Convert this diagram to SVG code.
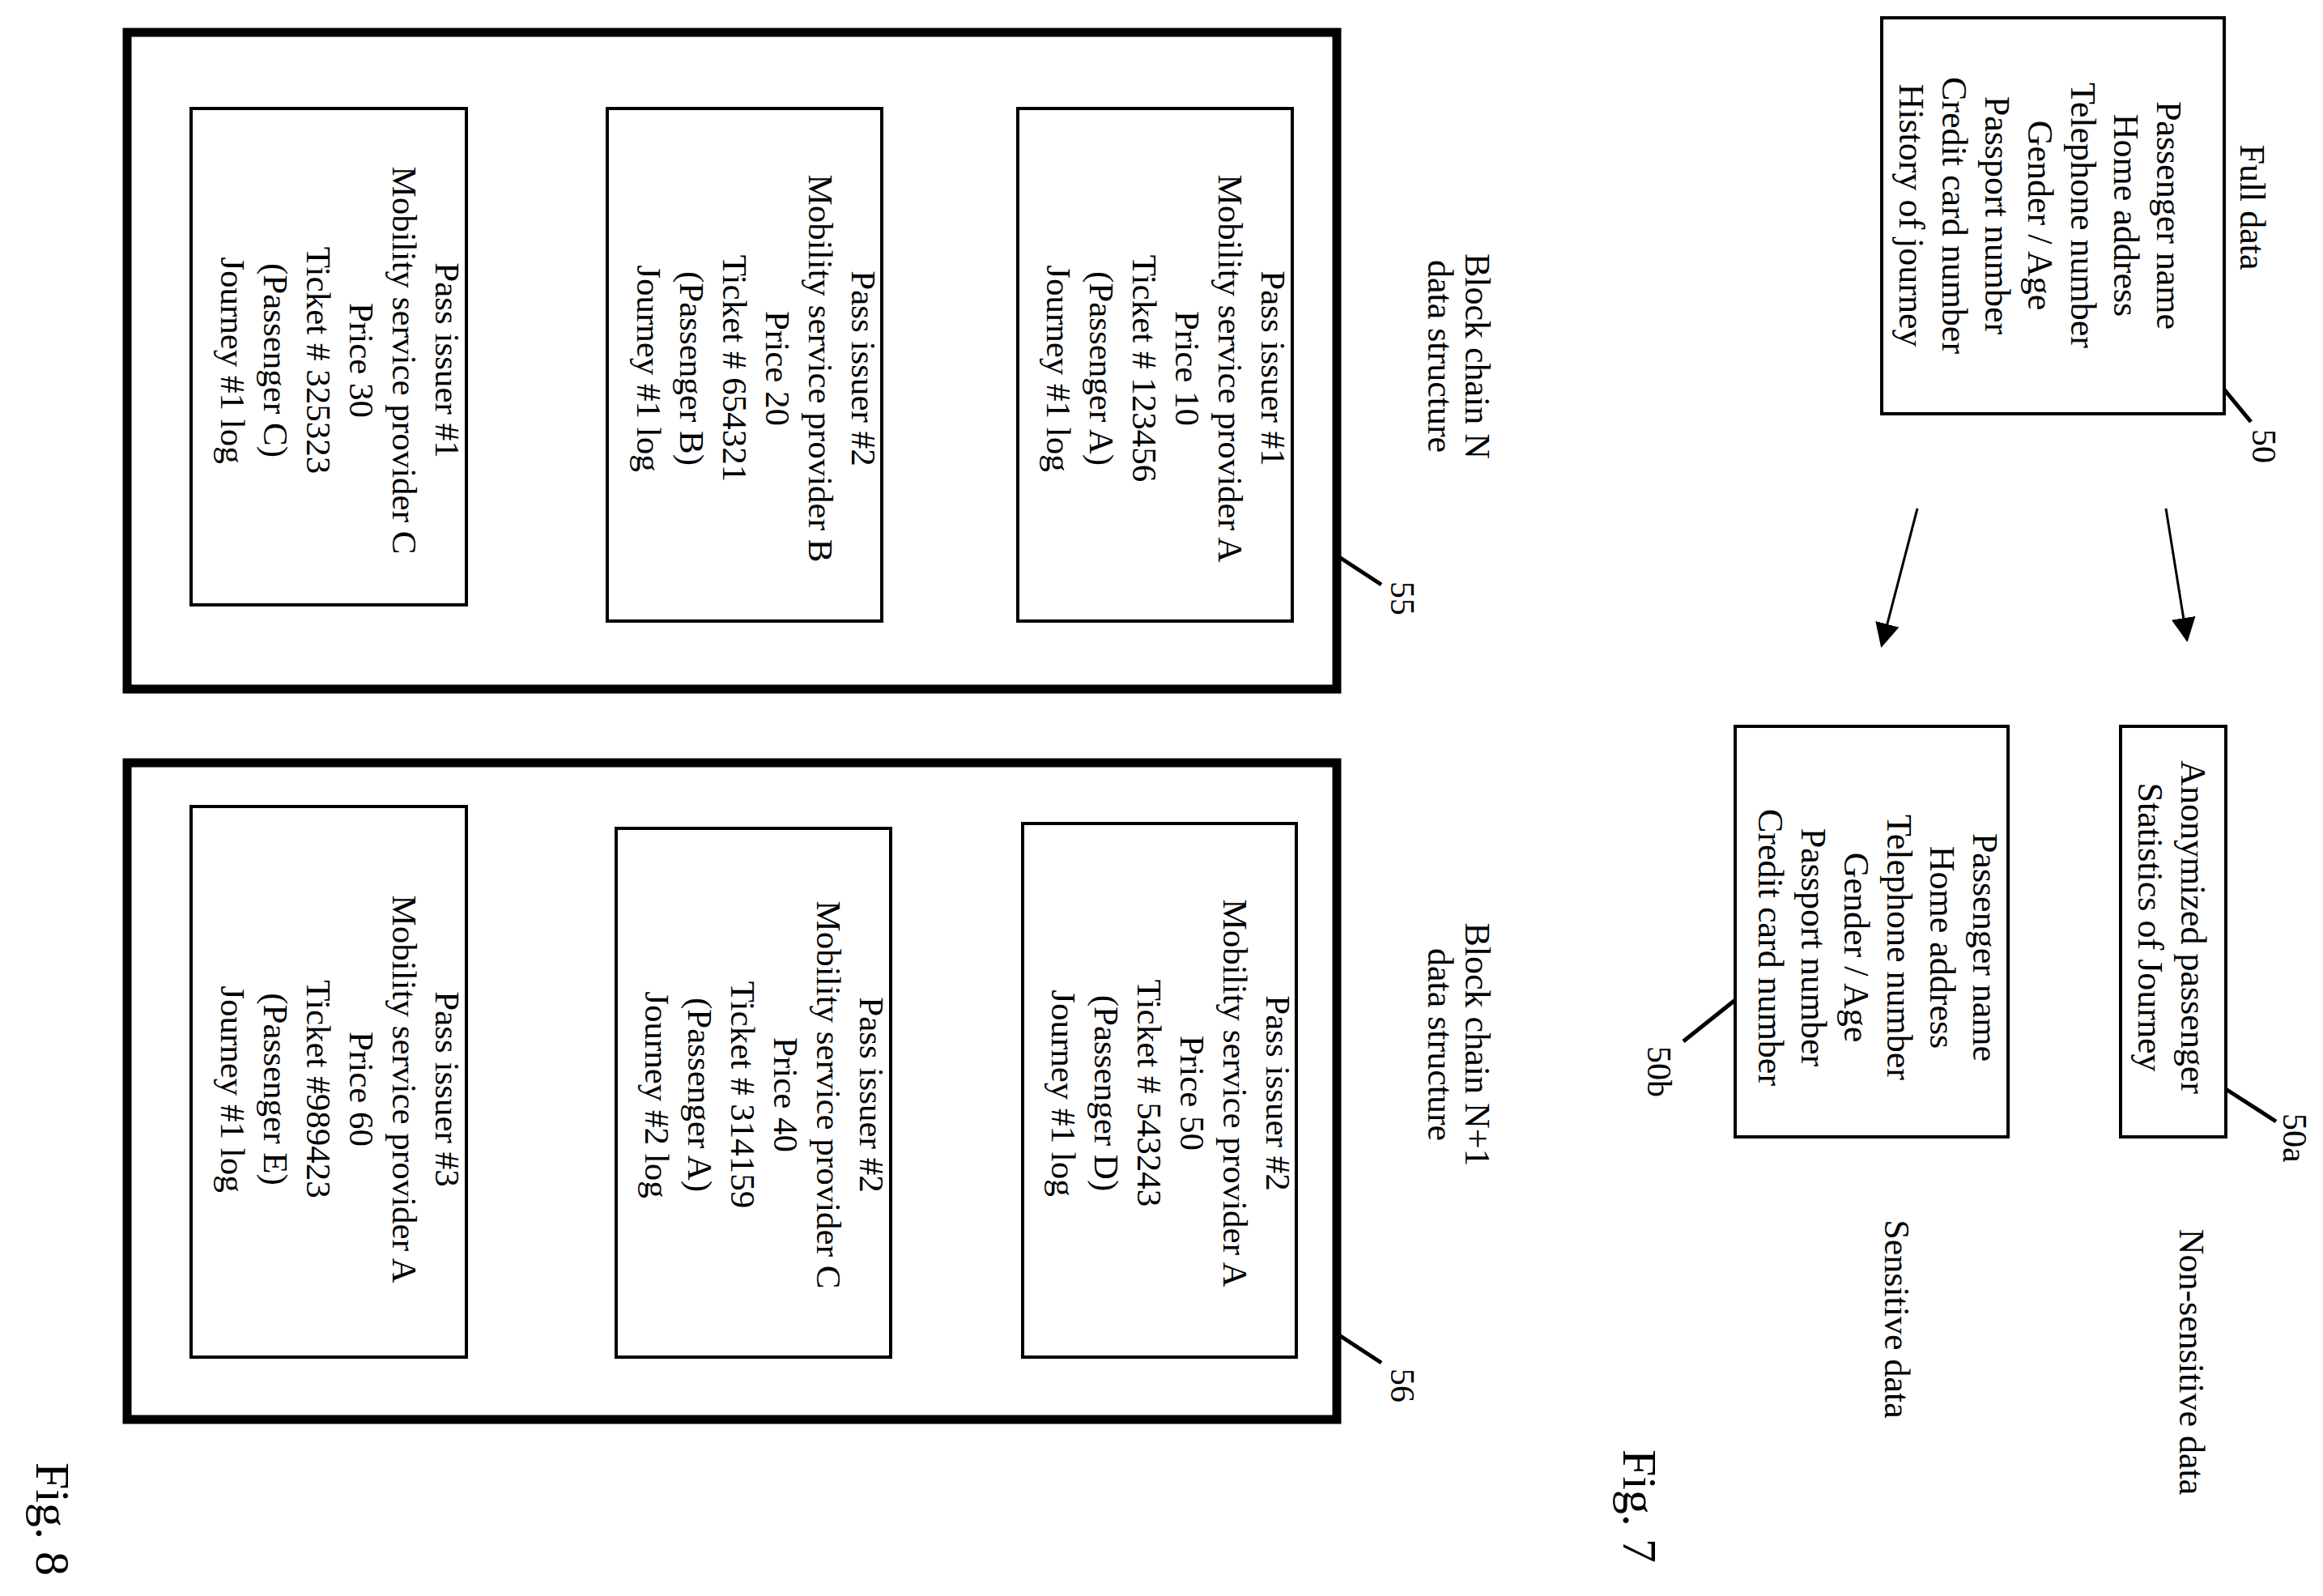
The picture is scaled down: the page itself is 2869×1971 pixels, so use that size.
<svg xmlns="http://www.w3.org/2000/svg" width="2869" height="1971" viewBox="0 0 2869 1971">
<style>
text{font-family:"Liberation Serif",serif;fill:#000;text-anchor:middle}
.t{font-size:43px}
.t7{font-size:44px}
.lb{font-size:42px}
.fig{font-size:60px}
.box{fill:none;stroke:#000;stroke-width:4}
.outer{fill:none;stroke:#000;stroke-width:11}
.ln{stroke:#000;stroke-width:5;fill:none}
.ar{stroke:#000;stroke-width:3;fill:none;marker-end:url(#ah2)}
</style>
<defs>
<marker id="ah2" viewBox="0 0 10 10" refX="9" refY="5" markerWidth="30" markerHeight="30" markerUnits="userSpaceOnUse" orient="auto"><path d="M0,0 L10,5 L0,10 z"/></marker></defs>

<g id="fig7">
<g id="n50"><rect class="box" x="2324" y="22" width="423" height="489"/>
<g transform="translate(2520,266) rotate(90)" class="t7"><text y="-144">Passenger name</text><text y="-91">Home address</text><text y="-38">Telephone number</text><text y="15">Gender / Age</text><text y="68">Passport number</text><text y="121">Credit card number</text><text y="174">History of journey</text></g></g>
<text class="t7" transform="translate(2767,256) rotate(90)">Full data</text>
<text class="lb" transform="translate(2782,530) rotate(90)" style="text-anchor:start">50</text>
<g id="n50a"><rect class="box" x="2619" y="897" width="130" height="507"/>
<g transform="translate(2684,1145) rotate(90)" class="t7"><text y="-10">Anonymized passenger</text><text y="43">Statistics of Journey</text></g></g>
<text class="lb" transform="translate(2820,1375) rotate(90)" style="text-anchor:start">50a</text>
<g id="n50b"><rect class="box" x="2143" y="897" width="337" height="507"/>
<g transform="translate(2320,1170) rotate(90)" class="t7"><text y="-117">Passenger name</text><text y="-64">Home address</text><text y="-11">Telephone number</text><text y="42">Gender / Age</text><text y="95">Passport number</text><text y="148">Credit card number</text></g></g>
<text class="lb" transform="translate(2035,1292) rotate(90)" style="text-anchor:start">50b</text>
<text class="t7" transform="translate(2692,1682) rotate(90)">Non-sensitive data</text>
<text class="t7" transform="translate(2328,1629) rotate(90)">Sensitive data</text>
<text class="fig" transform="translate(2005,1860) rotate(90)">Fig. 7</text>
</g>

<g id="fig8">
<g id="n55"><rect class="outer" x="157" y="40" width="1494" height="811"/></g>
<text class="t7" transform="translate(1810,440) rotate(90)"><tspan x="0" y="0">Block chain N</tspan><tspan x="0" y="46">data structure</tspan></text>
<text class="lb" transform="translate(1718,718) rotate(90)" style="text-anchor:start">55</text>
<g id="b1"><rect class="box" x="1257" y="134" width="339" height="633"/>
<g transform="translate(1426,455) rotate(90)" class="t"><text y="-132">Pass issuer #1</text><text y="-79">Mobility service provider A</text><text y="-26">Price  10</text><text y="27">Ticket # 123456</text><text y="80">(Passenger A)</text><text y="133">Journey #1 log</text></g></g>
<g id="b2"><rect class="box" x="750" y="134" width="339" height="633"/>
<g transform="translate(920,455) rotate(90)" class="t"><text y="-132">Pass issuer #2</text><text y="-79">Mobility service provider B</text><text y="-26">Price  20</text><text y="27">Ticket # 654321</text><text y="80">(Passenger B)</text><text y="133">Journey #1 log</text></g></g>
<g id="b3"><rect class="box" x="236" y="134" width="340" height="613"/>
<g transform="translate(406,445) rotate(90)" class="t"><text y="-132">Pass issuer #1</text><text y="-79">Mobility service provider C</text><text y="-26">Price  30</text><text y="27">Ticket # 325323</text><text y="80">(Passenger C)</text><text y="133">Journey #1 log</text></g></g>

<g id="n56"><rect class="outer" x="157" y="942" width="1494" height="811"/></g>
<text class="t7" transform="translate(1810,1290) rotate(90)"><tspan x="0" y="0">Block chain N+1</tspan><tspan x="0" y="46">data structure</tspan></text>
<text class="lb" transform="translate(1718,1690) rotate(90)" style="text-anchor:start">56</text>
<g id="b4"><rect class="box" x="1263" y="1017" width="338" height="659"/>
<g transform="translate(1432,1350) rotate(90)" class="t"><text y="-132">Pass issuer #2</text><text y="-79">Mobility service provider A</text><text y="-26">Price  50</text><text y="27">Ticket # 543243</text><text y="80">(Passenger D)</text><text y="133">Journey #1 log</text></g></g>
<g id="b5"><rect class="box" x="761" y="1023" width="339" height="653"/>
<g transform="translate(930,1352) rotate(90)" class="t"><text y="-132">Pass issuer #2</text><text y="-79">Mobility service provider C</text><text y="-26">Price  40</text><text y="27">Ticket # 314159</text><text y="80">(Passenger A)</text><text y="133">Journey #2 log</text></g></g>
<g id="b6"><rect class="box" x="236" y="996" width="340" height="680"/>
<g transform="translate(406,1345) rotate(90)" class="t"><text y="-132">Pass issuer #3</text><text y="-79">Mobility service provider A</text><text y="-26">Price  60</text><text y="27">Ticket #989423</text><text y="80">(Passenger E)</text><text y="133">Journey #1 log</text></g></g>
<text class="fig" transform="translate(45,1876) rotate(90)">Fig. 8</text>
</g>

<g id="connectors">
<line class="ln" x1="2747" y1="481" x2="2780" y2="521"/>
<line class="ln" x1="2749" y1="1345" x2="2811" y2="1385"/>
<line class="ln" x1="2143" y1="1235" x2="2079" y2="1286"/>
<line class="ln" x1="1651" y1="686" x2="1706" y2="722"/>
<line class="ln" x1="1651" y1="1647" x2="1706" y2="1683"/>
<line class="ar" x1="2675" y1="628" x2="2701" y2="790"/>
<line class="ar" x1="2368" y1="628" x2="2324" y2="797"/>
</g>
</svg>
